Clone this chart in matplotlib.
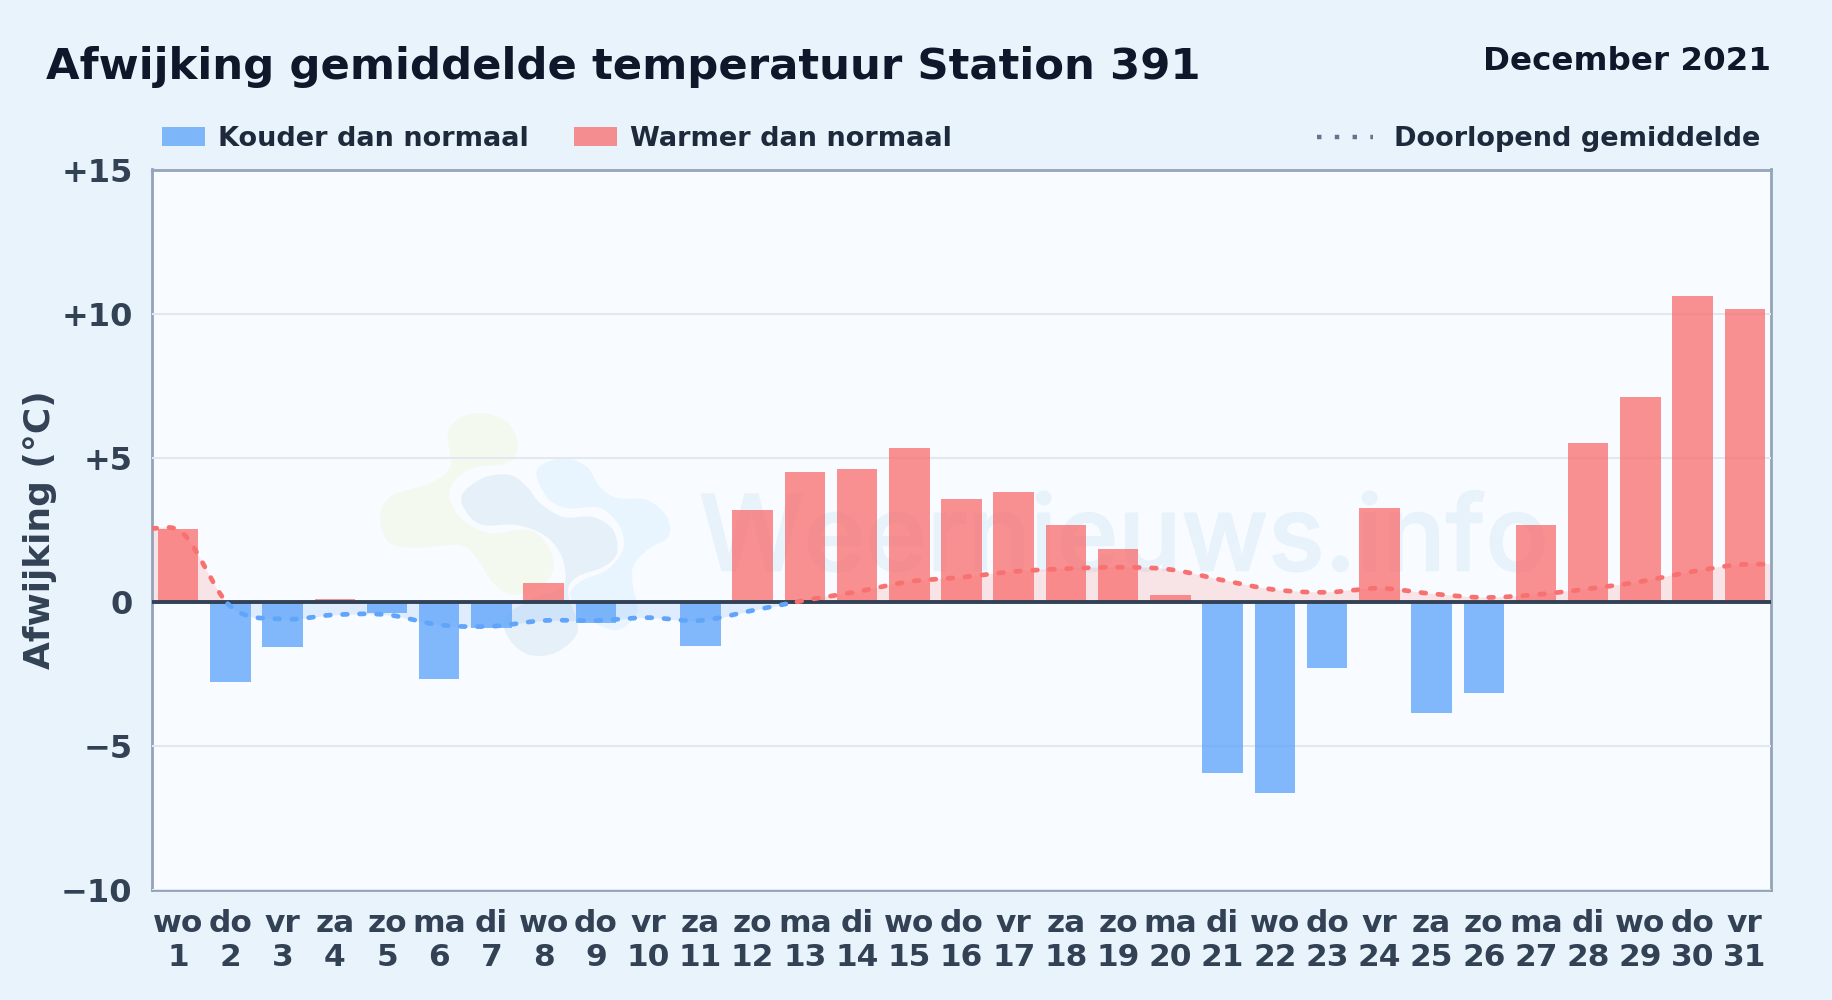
import numpy as np
import matplotlib
matplotlib.use('Agg')
import matplotlib.pyplot as plt
import matplotlib.patheffects as pe
from matplotlib.lines import Line2D
from matplotlib.patches import Patch, PathPatch
from matplotlib.path import Path
from matplotlib.transforms import Affine2D

# dagen en afwijkingen
weekdays = ['wo', 'do', 'vr', 'za', 'zo', 'ma', 'di', 'wo', 'do', 'vr', 'za', 'zo', 'ma', 'di', 'wo', 'do',
            'vr', 'za', 'zo', 'ma', 'di', 'wo', 'do', 'vr', 'za', 'zo', 'ma', 'di', 'wo', 'do', 'vr']
days = list(range(1, 32))
anomaly = [2.51, -2.80, -1.58, 0.08, -0.40, -2.67, -0.90, 0.65, -0.75, 0.0, -1.53, 3.20, 4.50, 4.62, 5.35, 3.57,
           3.80, 2.65, 1.82, 0.25, -5.95, -6.65, -2.30, 3.25, -3.85, -3.17, 2.68, 5.52, 7.10, 10.62, 10.15]
running_mean = [2.50, -0.15, -0.60, -0.45, -0.45, -0.80, -0.85, -0.65, -0.65, -0.55, -0.65, -0.30, 0.05, 0.35,
                0.70, 0.85, 1.05, 1.15, 1.20, 1.12, 0.75, 0.42, 0.33, 0.47, 0.28, 0.15, 0.25, 0.45, 0.70, 1.05,
                1.30]
y_ticks = [-10, -5, 0, 5, 10, 15]
y_tick_labels = ['\u221210', '\u22125', '0', '+5', '+10', '+15']

W, H = 1832, 1000
BLUE = '#60a5fa'
RED = '#f87171'

# watermerk logo, punten in pixels van het plaatje
logo_green = [(448, 433), (460, 418), (483, 413), (508, 423), (518, 447), (507, 463), (473, 468), (453, 483),
              (450, 500), (463, 520), (490, 533), (530, 530), (550, 550), (553, 570), (540, 587), (513, 595),
              (493, 583), (478, 560), (460, 545), (417, 548), (390, 543), (380, 520), (390, 497), (430, 483),
              (450, 467)]
logo_mid = [(462, 495), (483, 478), (510, 475), (527, 487), (540, 503), (563, 517), (593, 517), (613, 530),
            (617, 553), (603, 567), (577, 577), (568, 593), (578, 630), (557, 652), (530, 655), (510, 640),
            (505, 617), (537, 597), (563, 587), (563, 560), (547, 537), (517, 525), (483, 525), (467, 513)]
logo_light = [(537, 470), (563, 458), (587, 467), (600, 487), (617, 498), (647, 500), (667, 517), (668, 537),
              (647, 550), (633, 567), (633, 587), (637, 613), (617, 630), (590, 620), (577, 607), (570, 593),
              (583, 580), (607, 570), (623, 550), (620, 527), (600, 508), (567, 508), (547, 497)]


def smooth_curve(xs, ys, steps=20):
    # hermite spline door de punten, alleen voor het tekenen van de lijn
    xs = np.asarray(xs, float)
    ys = np.asarray(ys, float)
    slope = np.gradient(ys, xs)
    out_x, out_y = [], []
    for i in range(len(xs) - 1):
        t = np.linspace(0, 1, steps, endpoint=False)
        h = xs[i + 1] - xs[i]
        out_x.append(xs[i] + t * h)
        out_y.append((2 * t**3 - 3 * t**2 + 1) * ys[i] + (t**3 - 2 * t**2 + t) * h * slope[i]
                     + (-2 * t**3 + 3 * t**2) * ys[i + 1] + (t**3 - t**2) * h * slope[i + 1])
    return np.r_[np.concatenate(out_x), xs[-1]], np.r_[np.concatenate(out_y), ys[-1]]


def blob_path(points):
    # gesloten catmull-rom als bezier
    pts = np.array(points, float)
    n = len(pts)
    verts = [pts[0]]
    codes = [Path.MOVETO]
    for i in range(n):
        p0, p1, p2, p3 = pts[i - 1], pts[i], pts[(i + 1) % n], pts[(i + 2) % n]
        verts += [p1 + (p2 - p0) / 6, p2 - (p3 - p1) / 6, p2]
        codes += [Path.CURVE4] * 3
    return Path(verts, codes)


plt.rcParams['font.family'] = 'DejaVu Sans'
plt.rcParams['font.weight'] = 'bold'

fig = plt.figure(figsize=(W / 100, H / 100), dpi=100, facecolor='#e8f3fc')
ax = fig.add_axes([152 / W, 1 - 890 / H, (1771 - 152) / W, (890 - 169.5) / H], facecolor='#f8fbff')

px = Affine2D().scale(1, -1).translate(0, H)
for pts, col in [(logo_green, '#f4f9f0'), (logo_light, '#e8f5fe'), (logo_mid, '#e6f0f9')]:
    ax.add_patch(PathPatch(blob_path(pts), transform=px, facecolor=col, edgecolor='none', zorder=0.5))
ax.text(1124, 543, 'Weernieuws.info', transform=px, family='Inter', weight='medium', fontsize=75.4,
        color='#e8f2fb', ha='center', va='center', zorder=0.6,
        path_effects=[pe.withStroke(linewidth=1.2, foreground='#e8f2fb')])

ax.grid(axis='y', color='#e2e8f0', lw=1.5, zorder=1)
ax.set_axisbelow(False)
ax.xaxis.grid(False)

# lopend gemiddelde loopt door tot de randen van de as
line_x, line_y = smooth_curve([0.5] + days + [31.5], [running_mean[0] + 0.05] + running_mean + [running_mean[-1]])
ax.fill_between(line_x, line_y, 0, where=line_y >= 0, interpolate=True, color=RED, alpha=0.17, lw=0, zorder=2)
ax.fill_between(line_x, line_y, 0, where=line_y <= 0, interpolate=True, color=BLUE, alpha=0.17, lw=0, zorder=2)

colors = [RED if v >= 0 else BLUE for v in anomaly]
ax.bar(days, anomaly, width=0.775, color=colors, alpha=0.78, lw=0, zorder=3)

ax.axhline(0, color='#334155', lw=2.8, zorder=4)

pos_y = np.ma.masked_where(line_y < 0, line_y)
neg_y = np.ma.masked_where(line_y > 0, line_y)
ax.plot(line_x, pos_y, color=RED, lw=3.4, ls=(0, (1, 2.6)), dash_capstyle='round', zorder=5)
ax.plot(line_x, neg_y, color=BLUE, lw=3.4, ls=(0, (1, 2.6)), dash_capstyle='round', zorder=5)

ax.set_xlim(0.5, 31.5)
ax.set_ylim(-10, 15)
ax.set_yticks(y_ticks)
ax.set_yticklabels(y_tick_labels)
ax.set_xticks(days)
ax.set_xticklabels([f'{d}\n{n}' for d, n in zip(weekdays, days)])
ax.tick_params(axis='both', length=0, labelsize=23, labelcolor='#334155')
ax.tick_params(axis='x', pad=14, labelsize=22.5)
ax.tick_params(axis='y', pad=14)
for sp in ax.spines.values():
    sp.set_color('#94a3b8')
    sp.set_linewidth(2)

fig.text(40 / W, 1 - 530 / H, 'Afwijking (\u00b0C)', rotation=90, fontsize=25.9, color='#334155',
         ha='center', va='center')
fig.text(46 / W, 1 - 79 / H, 'Afwijking gemiddelde temperatuur Station 391', fontsize=31.2, color='#0f172a',
         ha='left', va='baseline')
fig.text(1771 / W, 1 - 70 / H, 'December 2021', fontsize=23.4, color='#0f172a', ha='right', va='baseline')

left = ax.legend(handles=[Patch(color=BLUE, alpha=0.78, lw=0, label='Kouder dan normaal'),
                          Patch(color=RED, alpha=0.78, lw=0, label='Warmer dan normaal')],
                 ncol=2, loc='center left', bbox_to_anchor=(162 / W, 1 - 139 / H), bbox_transform=fig.transFigure,
                 frameon=False, fontsize=19.5, labelcolor='#1e293b', handlelength=1.6, handleheight=0.72,
                 handletextpad=0.47, columnspacing=1.65, borderpad=0, borderaxespad=0)
ax.add_artist(left)
ax.legend(handles=[Line2D([], [], color='#64748b', lw=3.2, ls=(0, (1, 3)), label='Doorlopend gemiddelde')],
          loc='center right', bbox_to_anchor=(1760 / W, 1 - 139 / H), bbox_transform=fig.transFigure,
          frameon=False, fontsize=19.5, labelcolor='#1e293b', handlelength=2.05, handletextpad=0.78,
          borderpad=0, borderaxespad=0)

fig.savefig('out.png', dpi=100, facecolor=fig.get_facecolor())
